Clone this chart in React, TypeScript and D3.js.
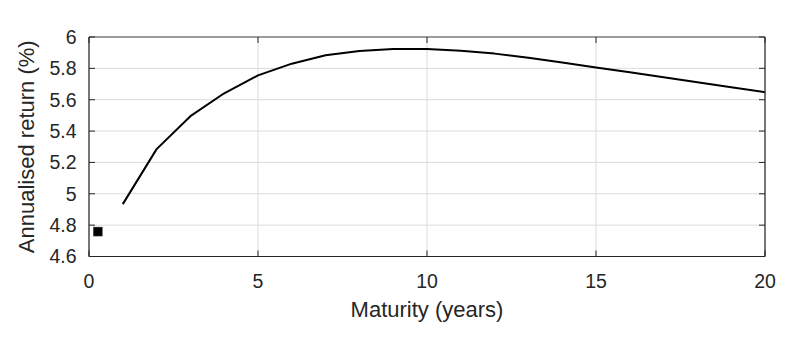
import React from "react";
import * as d3 from "d3";

// yield curve, annualised return by maturity
const maturities = [1, 2, 3, 4, 5, 6, 7, 8, 9, 10, 11, 12, 13, 14, 15, 16, 17, 18, 19, 20];
const returns = [4.934, 5.285, 5.495, 5.641, 5.755, 5.83, 5.883, 5.911, 5.924, 5.923, 5.912, 5.894, 5.868, 5.838, 5.806, 5.775, 5.743, 5.711, 5.679, 5.648];
const spotMaturity = [0.26];
const spotReturn = [4.759];

const xTicks = [0, 5, 10, 15, 20];
const yTicks = [4.6, 4.8, 5, 5.2, 5.4, 5.6, 5.8, 6];

const W = 812;
const H = 346;
const margin = { top: 37, right: 47, bottom: 89.5, left: 89 };

export default function App() {
	const iw = W - margin.left - margin.right;
	const ih = H - margin.top - margin.bottom;

	const x = d3.scaleLinear().domain([0, 20]).range([0, iw]);
	const y = d3.scaleLinear().domain([4.6, 6]).range([ih, 0]);

	const line = d3.line<number>()
		.x((d, i) => x(maturities[i]))
		.y(d => y(d));

	const textColor = "#262626";
	const font = "'Liberation Sans', Arial, sans-serif";

	return (
		<svg width={W} height={H} style={{ position: "absolute", left: 0, top: 0, background: "#fff" }}>
			<g transform={`translate(${margin.left},${margin.top})`}>
				{/* grid */}
				{xTicks.map(t => (
					<line key={"gx" + t} x1={x(t)} x2={x(t)} y1={0} y2={ih} stroke="#dcdcdc" strokeWidth={1} />
				))}
				{yTicks.map(t => (
					<line key={"gy" + t} x1={0} x2={iw} y1={y(t)} y2={y(t)} stroke="#dcdcdc" strokeWidth={1} />
				))}

				{/* curve */}
				<path d={line(returns) || ""} fill="none" stroke="#000" strokeWidth={2} strokeLinejoin="round" />

				{/* short rate marker */}
				{spotMaturity.map((m, i) => (
					<rect key={"s" + i} x={x(m) - 4.5} y={y(spotReturn[i]) - 4.5} width={9} height={9} fill="#000" stroke="#555" strokeWidth={0.5} />
				))}

				{/* box */}
				<line x1={0} x2={iw} y1={0} y2={0} stroke="#808080" strokeWidth={1.5} />
				<line x1={iw} x2={iw} y1={0} y2={ih} stroke="#262626" strokeWidth={1.2} />
				<line x1={0} x2={0} y1={0} y2={ih} stroke="#262626" strokeWidth={1.2} />
				<line x1={0} x2={iw} y1={ih} y2={ih} stroke="#262626" strokeWidth={1.2} />

				{/* ticks inward */}
				{xTicks.map(t => (
					<g key={"tx" + t}>
						<line x1={x(t)} x2={x(t)} y1={ih} y2={ih - 6} stroke="#262626" />
						<line x1={x(t)} x2={x(t)} y1={0} y2={6} stroke="#262626" />
						<text x={x(t)} y={ih + 31.5} textAnchor="middle" fontSize={19.5} fill={textColor} fontFamily={font}>{t}</text>
					</g>
				))}
				{yTicks.map(t => (
					<g key={"ty" + t}>
						<line x1={0} x2={6} y1={y(t)} y2={y(t)} stroke="#262626" />
						<line x1={iw} x2={iw - 6} y1={y(t)} y2={y(t)} stroke="#262626" />
						<text x={-12.5} y={y(t)} dy="0.35em" textAnchor="end" fontSize={19.5} fill={textColor} fontFamily={font}>{t}</text>
					</g>
				))}

				<text x={iw / 2} y={ih + 60.5} textAnchor="middle" fontSize={22} fill={textColor} fontFamily={font}>Maturity (years)</text>
				<text transform={`translate(${-55},${ih / 2}) rotate(-90)`} textAnchor="middle" fontSize={22} fill={textColor} fontFamily={font}>Annualised return (%)</text>
			</g>
		</svg>
	);
}
